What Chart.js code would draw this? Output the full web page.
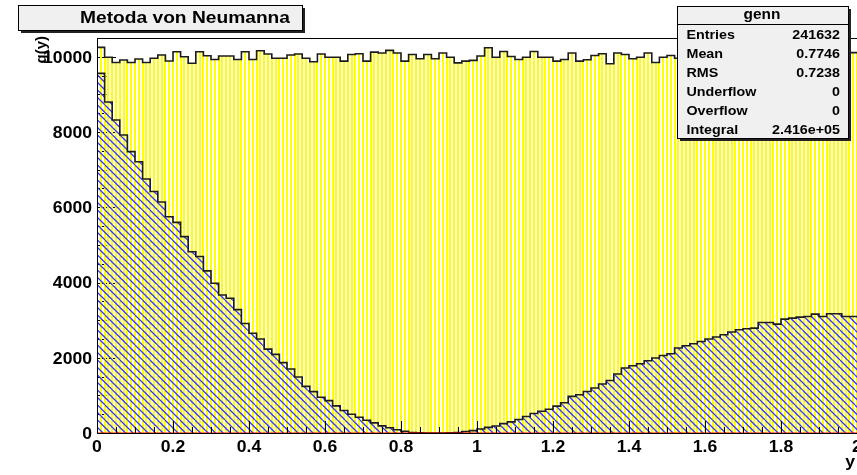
<!DOCTYPE html>
<html>
<head>
<meta charset="utf-8">
<script src="https://cdn.jsdelivr.net/npm/chart.js@4.4.0/dist/chart.umd.min.js"></script>
<style>
  html, body { margin: 0; padding: 0; background: #fff; }
  canvas { display: block; }
</style>
</head>
<body>
<canvas id="histo" width="857" height="475"></canvas>
<script>
// binning of both histograms
const xMin = 0, xMax = 2, nBins = 100;

// proposals, uniform in y (yellow, vertical hatch)
const uniformCounts = [
  10070, 10250, 9990, 9850, 9915, 9850, 9940, 9850, 9960, 10050,
  9890, 10135, 10000, 9830, 10135, 10030, 9930, 10020, 10020, 9930,
  10135, 9930, 10160, 10075, 9960, 9960, 10050, 10075, 9960, 9870,
  10075, 9990, 9990, 9885, 10060, 10080, 9885, 10125, 10100, 10170,
  10100, 9885, 10060, 9950, 10060, 9950, 10100, 9990, 9840, 9885,
  9905, 10020, 10240, 9990, 10140, 10010, 9930, 9990, 10140, 9990,
  9990, 9885, 9930, 10100, 9885, 9920, 10035, 10080, 9815, 10100,
  10060, 9950, 9990, 10100, 9850, 9990, 10035, 9960, 10040, 9900,
  10010, 9950, 10080, 9930, 9990, 10050, 9880, 10020, 9970, 10060,
  9910, 9990, 10030, 9940, 10070, 9960, 9900, 10010, 9980, 10110
];

// accepted points "genn" (blue, diagonal hatch)
const gennCounts = [
  9870, 9560, 8800, 8320, 7920, 7480, 7210, 6750, 6420, 6140,
  5750, 5600, 5220, 4820, 4690, 4310, 3980, 3670, 3580, 3280,
  2910, 2650, 2500, 2230, 2090, 1870, 1700, 1490, 1240, 1100,
  950, 860, 720, 600, 500, 420, 340, 270, 190, 140,
  85, 45, 15, 5, 0, 0, 0, 3, 12, 40,
  62, 106, 150, 185, 250, 295, 360, 440, 520, 580,
  630, 715, 805, 973, 1017, 1105, 1195, 1301, 1397, 1567,
  1726, 1788, 1841, 1920, 1992, 2062, 2106, 2258, 2319, 2372,
  2433, 2497, 2550, 2611, 2683, 2744, 2770, 2789, 2938, 2938,
  2895, 3028, 3054, 3081, 3097, 3161, 3097, 3169, 3169, 3097
];

// empty red histogram lying on the x axis
const emptyCounts = [
  0,0,0,0,0,0,0,0,0,0, 0,0,0,0,0,0,0,0,0,0, 0,0,0,0,0,0,0,0,0,0,
  0,0,0,0,0,0,0,0,0,0, 0,0,0,0,0,0,0,0,0,0, 0,0,0,0,0,0,0,0,0,0,
  0,0,0,0,0,0,0,0,0,0, 0,0,0,0,0,0,0,0,0,0, 0,0,0,0,0,0,0,0,0,0,
  0,0,0,0,0,0,0,0,0,0
];

const xTickLabels = ['0', '0.2', '0.4', '0.6', '0.8', '1', '1.2', '1.4', '1.6', '1.8', '2'];
const yTickLabels = ['0', '2000', '4000', '6000', '8000', '10000'];
const yMax = 10500;

const plotTitle = 'Metoda von Neumanna';
const xTitle = 'y';
const yTitle = 'g(y)';
const statsName = 'genn';
const statsLabels = ['Entries', 'Mean', 'RMS', 'Underflow', 'Overflow', 'Integral'];
const statsValues = ['241632', '0.7746', '0.7238', '0', '0', '2.416e+05'];

// bin contents -> step points at the low edges (+ closing edge)
function toSteps(counts) {
  const w = (xMax - xMin) / counts.length;
  const pts = counts.map((c, i) => ({ x: xMin + i * w, y: c }));
  pts.push({ x: xMax, y: counts[counts.length - 1] });
  return pts;
}

const canvas = document.getElementById('histo');
const ctx = canvas.getContext('2d');

function vertHatch() {
  const c = document.createElement('canvas');
  c.width = 38; c.height = 4;
  const g = c.getContext('2d');
  g.fillStyle = '#ffff00';
  for (let k = 0; k < 10; k++) {
    g.fillRect(Math.round(k * 3.8) + 1, 0, 2, 4);
  }
  return ctx.createPattern(c, 'repeat');
}

function diagHatch() {
  const c = document.createElement('canvas');
  c.width = 15; c.height = 15;
  const g = c.getContext('2d');
  g.strokeStyle = '#3535ff';
  g.lineWidth = 1.25;
  for (let k = -2; k <= 2; k++) {
    g.beginPath(); g.moveTo(k * 7.5, 0); g.lineTo(k * 7.5 + 15, 15); g.stroke();
  }
  return ctx.createPattern(c, 'repeat');
}

const FONT = '"Liberation Sans", Arial, Helvetica, sans-serif';
const STRETCH = 1.1;

function txt(c, s, x, y, size, align, stretch) {
  c.save();
  c.font = 'bold ' + size + 'px ' + FONT;
  c.textAlign = align;
  c.textBaseline = 'alphabetic';
  c.translate(x, y);
  c.scale(stretch, 1);
  c.fillText(s, 0, 0);
  c.restore();
}

function paveBox(c, x, y, w, h) {
  c.fillStyle = '#222';
  c.fillRect(x + 3, y + 3, w, h);
  c.fillStyle = '#f0f0f0';
  c.fillRect(x, y, w, h);
  c.strokeStyle = '#000';
  c.lineWidth = 1;
  c.strokeRect(x + 0.5, y + 0.5, w, h);
}

const rootLook = {
  id: 'rootLook',
  beforeDraw(chart) {
    const c = chart.ctx;
    c.save();
    c.fillStyle = '#fff';
    c.fillRect(0, 0, chart.width, chart.height);
    c.restore();
  },
  beforeDatasetsDraw(chart) {
    // y ticks (inside the frame, crossed by the hatching)
    const c = chart.ctx, a = chart.chartArea, ys = chart.scales.y;
    const major = Number(yTickLabels[1]) - Number(yTickLabels[0]);
    c.save();
    c.strokeStyle = '#000';
    c.lineWidth = 1;
    for (let v = 0; v <= yMax; v += major / 4) {
      const py = Math.round(ys.getPixelForValue(v)) + 0.5;
      const len = (v % major === 0) ? 19 : 9.5;
      c.beginPath(); c.moveTo(a.left, py); c.lineTo(a.left + len, py); c.stroke();
    }
    c.restore();
  },
  afterDatasetsDraw(chart) {
    const c = chart.ctx, a = chart.chartArea;
    const xs = chart.scales.x, ys = chart.scales.y;
    c.save();
    c.strokeStyle = '#000';
    c.lineWidth = 1;
    c.strokeRect(a.left + 0.5, a.top + 0.5, a.right - a.left, a.bottom - a.top);

    // x ticks
    const xMajor = Number(xTickLabels[1]) - Number(xTickLabels[0]);
    for (let k = 0; k <= Math.round((xMax - xMin) / (xMajor / 4)); k++) {
      const v = xMin + k * xMajor / 4;
      const px = Math.round(xs.getPixelForValue(v)) + 0.5;
      const len = (k % 4 === 0) ? 12 : 6;
      c.beginPath(); c.moveTo(px, a.bottom); c.lineTo(px, a.bottom - len); c.stroke();
    }

    c.fillStyle = '#000';
    xTickLabels.forEach(l => {
      txt(c, l, xs.getPixelForValue(Number(l)), 452, 16, 'center', STRETCH);
    });
    yTickLabels.forEach(l => {
      txt(c, l, 92, ys.getPixelForValue(Number(l)) + 5.8, 16, 'right', STRETCH);
    });

    // axis titles
    txt(c, xTitle, 855, 467, 16, 'right', STRETCH);
    c.save();
    c.translate(46, 36);
    c.rotate(-Math.PI / 2);
    txt(c, yTitle, 0, 0, 15, 'right', 1);
    c.restore();

    // title pave
    paveBox(c, 18, 5, 284, 25);
    c.fillStyle = '#000';
    c.font = 'bold 17px ' + FONT;
    const tw = c.measureText(plotTitle).width;
    txt(c, plotTitle, 80, 22.7, 17, 'left', 210 / tw);

    // stats pave
    paveBox(c, 677, 6, 171, 132);
    c.fillStyle = '#000';
    txt(c, statsName, 762, 19, 14, 'center', STRETCH);
    c.beginPath(); c.moveTo(677, 24.5); c.lineTo(848, 24.5); c.stroke();
    statsLabels.forEach((l, i) => {
      const by = 39 + i * 19;
      txt(c, l, 686.5, by, 13, 'left', STRETCH);
      txt(c, statsValues[i], 840, by, 13, 'right', STRETCH);
    });
    c.restore();
  }
};

new Chart(ctx, {
  type: 'line',
  data: {
    datasets: [
      {
        label: 'empty',
        data: toSteps(emptyCounts),
        stepped: 'after',
        fill: false,
        borderColor: '#ff0000',
        borderWidth: 1.2,
        pointRadius: 0
      },
      {
        label: statsName,
        data: toSteps(gennCounts),
        stepped: 'after',
        fill: 'origin',
        backgroundColor: diagHatch(),
        borderColor: '#1c1c1c',
        borderWidth: 1.6,
        pointRadius: 0
      },
      {
        label: 'uniform',
        data: toSteps(uniformCounts),
        stepped: 'after',
        fill: 'origin',
        backgroundColor: vertHatch(),
        borderColor: '#1c1c1c',
        borderWidth: 1.6,
        pointRadius: 0
      }
    ]
  },
  options: {
    responsive: false,
    animation: false,
    devicePixelRatio: 1,
    layout: { padding: { left: 97, top: 38, right: 0, bottom: 42 } },
    scales: {
      x: { type: 'linear', min: xMin, max: xMax, display: false },
      y: { type: 'linear', min: 0, max: yMax, display: false }
    },
    plugins: {
      legend: { display: false },
      tooltip: { enabled: false }
    }
  },
  plugins: [rootLook]
});
</script>
</body>
</html>
